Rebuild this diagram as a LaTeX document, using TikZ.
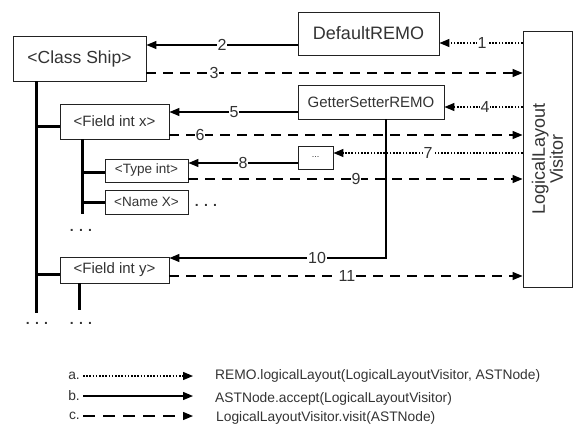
\documentclass[tikz,border=0pt]{standalone}
\usepackage{fontspec}
\setmainfont{Liberation Sans}
\usetikzlibrary{arrows.meta}
\definecolor{txt}{HTML}{333333}
\definecolor{edge}{HTML}{222222}
\newcommand{\fs}[1]{\fontsize{#1}{#1}\selectfont}
\begin{document}
\begin{tikzpicture}[x=1pt,y=-1pt,
  box/.style={draw=edge,line width=0.9pt,text=txt,inner sep=0pt,fill=white},
  lbl/.style={fill=white,inner sep=1pt,text=txt,font=\fs{16}},
  tip/.style={-{Triangle[length=10pt,width=8pt]}},
  sol/.style={line width=1.3pt,tip},
  dsh/.style={line width=1.3pt,tip,dash pattern=on 10pt off 7pt},
  dtt/.style={line width=1.3pt,tip,dash pattern=on 1.6pt off 1.6pt},
  tree/.style={line width=3pt},
  dts/.style={text=txt,font=\fs{14}\bfseries,inner sep=0pt},
  leg/.style={text=txt,font=\fs{13.8},inner sep=0pt}]
\useasboundingbox (0,0) rectangle (573,426);
% boxes
\node[box,minimum width=133pt,minimum height=45pt,font=\fs{17.5}] (ship) at (79.5,58.5) {<Class Ship>};
\node[box,minimum width=141pt,minimum height=43pt,font=\fs{18}] (def) at (368.5,33.5) {DefaultREMO};
\node[box,minimum width=49pt,minimum height=256pt] (llv) at (547.5,159) {};
\node[rotate=90,align=center,text=txt,font=\fs{18},inner sep=0pt] (llvt) at (llv.center) {LogicalLayout\\Visitor};
\node[box,minimum width=146pt,minimum height=34pt,font=\fs{15}] (gsr) at (371,102) {GetterSetterREMO};
\node[box,minimum width=109pt,minimum height=35pt,font=\fs{15}] (fx) at (114.5,121.5) {<Field int x>};
\node[box,minimum width=35pt,minimum height=23pt,font=\fs{9}] (etc) at (315.5,157.5) {...};
\node[box,minimum width=83pt,minimum height=23pt,font=\fs{13.5}] (ti) at (146.5,170.5) {<Type int>};
\node[box,minimum width=83pt,minimum height=24pt,font=\fs{13.5}] (nx) at (146.5,202) {<Name X>};
\node[box,minimum width=109pt,minimum height=26pt,font=\fs{15}] (fy) at (114.5,270) {<Field int y>};
% tree
\coordinate (t1) at (36,313);
\coordinate (t2) at (82,214);
\coordinate (t3) at (79,310);
\draw[tree] (ship.south -| t1) -- (t1);
\draw[tree] (t1 |- 0,126) -- (fx.west |- 0,126);
\draw[tree] (t1 |- 0,274) -- (fy.west |- 0,274);
\draw[tree] (fx.south -| t2) -- (t2);
\draw[tree] (t2 |- 0,172) -- (ti.west |- 0,172);
\draw[tree] (t2 |- 0,202) -- (nx.west |- 0,202);
\draw[tree] (fy.south -| t3) -- (t3);
\node[dts] (d1) at (206,205) {. . .};
\node[dts] (d2) at (81,230) {. . .};
\node[dts] (d3) at (37,323) {. . .};
\node[dts] (d4) at (81,323) {. . .};
% arrows
\draw[dtt] (llv.west |- 0,43) -- (def.east |- 0,43);
\draw[sol] (def.west |- 0,45) -- (ship.east |- 0,45);
\draw[dsh] (ship.east |- 0,73) -- (llv.west |- 0,73);
\draw[dtt] (llv.west |- 0,107) -- (gsr.east |- 0,107);
\draw[sol] (gsr.west |- 0,112) -- (fx.east |- 0,112);
\draw[dsh] (fx.east |- 0,135) -- (llv.west |- 0,135);
\draw[dtt] (llv.west |- 0,153) -- (etc.east |- 0,153);
\draw[sol] (etc.west |- 0,163) -- (ti.east |- 0,163);
\draw[dsh] (ti.east |- 0,179) -- (llv.west |- 0,179);
\coordinate (g10) at (386,0);
\draw[sol] (gsr.south -| g10) -- (g10 |- 0,258) -- (fy.east |- 0,258);
\draw[dsh] (fy.east |- 0,276) -- (llv.west |- 0,276);
% labels
\node[lbl] (l1) at (482,43) {1};
\node[lbl] (l2) at (222,45) {2};
\node[lbl] (l3) at (214,73) {3};
\node[lbl] (l4) at (485,107) {4};
\node[lbl] (l5) at (234,112) {5};
\node[lbl] (l6) at (200,135) {6};
\node[lbl] (l7) at (428,153) {7};
\node[lbl] (l8) at (243,163) {8};
\node[lbl] (l9) at (356,179) {9};
\node[lbl] (l10) at (317,258) {10};
\node[lbl] (l11) at (347,276) {11};
% legend
\node[leg,anchor=east] (la) at (80,376) {a.};
\node[leg,anchor=east] (lb) at (80,396) {b.};
\node[leg,anchor=east] (lc) at (80,416) {c.};
\coordinate (ae) at (193,376);
\coordinate (be) at (193,396);
\coordinate (ce) at (193,416);
\draw[dtt] ([xshift=3pt]la.east) -- (ae);
\draw[sol] ([xshift=3pt]lb.east) -- (be);
\draw[dsh,dash pattern=on 12pt off 8pt] ([xshift=3pt]lc.east) -- (ce);
\node[leg,anchor=west] (ta) at (215,376) {REMO.logicalLayout(LogicalLayoutVisitor, ASTNode)};
\node[leg,anchor=west] (tb) at (215,399) {ASTNode.accept(LogicalLayoutVisitor)};
\node[leg,anchor=west] (tc) at (216,418) {LogicalLayoutVisitor.visit(ASTNode)};
\end{tikzpicture}
\end{document}
